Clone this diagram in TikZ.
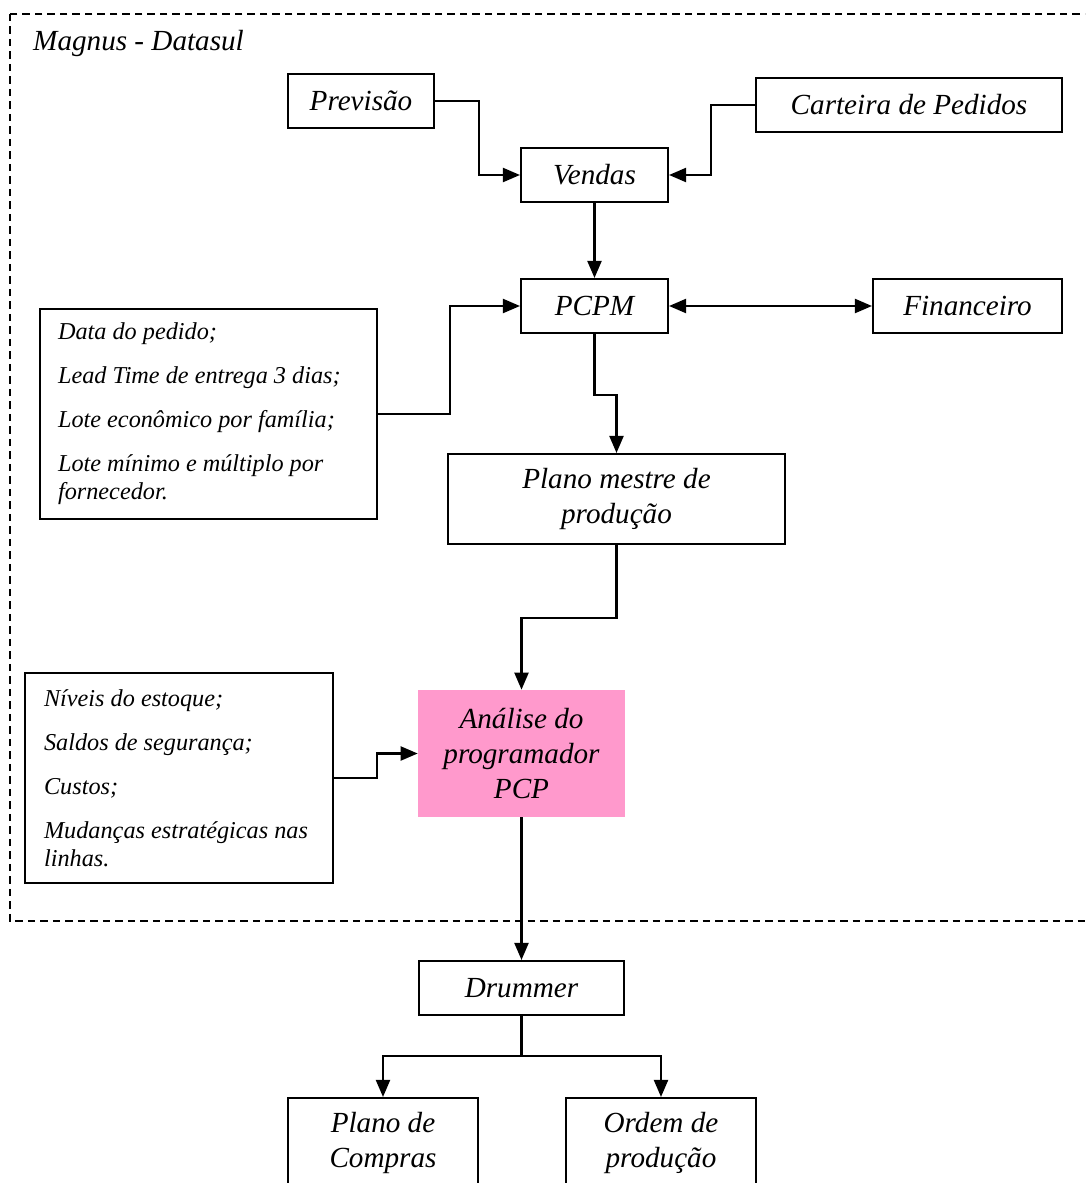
\documentclass[tikz,border=0pt]{standalone}
\usepackage{fontspec}
\newfontfamily\timesfont{Liberation Serif}
\usetikzlibrary{arrows.meta, positioning, calc}
\definecolor{InkBlack}{HTML}{000000}
\definecolor{PinkFill}{HTML}{FF99CC}
\tikzset{
  box/.style={draw=InkBlack, line width=1.2pt, fill=white, align=center, inner sep=2pt, font=\timesfont\fontsize{16.6}{19.8}\selectfont\itshape},
  pinkbox/.style={draw=none, fill=PinkFill, align=center, inner sep=2pt, font=\timesfont\fontsize{16.6}{19.8}\selectfont\itshape},
  infobox/.style={draw=InkBlack, line width=1.2pt, fill=white, align=flush left, anchor=north west, inner xsep=0.36cm, font=\timesfont\fontsize{13.8}{16}\selectfont\itshape},
  frame/.style={draw=InkBlack, line width=1.2pt, dash pattern=on 0.15cm off 0.1cm},
  arrow/.style={-{Triangle[length=0.34cm, width=0.28cm]}, line width=1.2pt, draw=InkBlack},
  dualarrow/.style={{Triangle[length=0.34cm, width=0.28cm]}-{Triangle[length=0.34cm, width=0.28cm]}, line width=1.2pt, draw=InkBlack}
}

\begin{document}
\begin{tikzpicture}[x=0.02cm, y=-0.02cm]
\clip (0,0) rectangle (1085,1183);
\draw[frame] (10,14) rectangle (1100,921);
\node[anchor=west, font=\timesfont\fontsize{16.6}{19.8}\selectfont\itshape] (magnus) at (27,43) {Magnus - Datasul};

% entradas de vendas
\node[box, minimum width=2.92cm, minimum height=1.08cm] (previsao) at (361,101) {Previsão};
\node[box, minimum width=6.12cm, minimum height=1.08cm] (carteira) at (909,105) {Carteira de Pedidos};
\node[box, minimum width=2.94cm, minimum height=1.08cm] (vendas) at (594.5,175) {Vendas};
\draw[arrow] (previsao.east) -- ++(44,0) |- (vendas.west);
\draw[arrow] (carteira.west) -- ++(-44,0) |- (vendas.east);

% PCPM
\node[box, minimum width=2.94cm, minimum height=1.08cm] (pcpm) at (594.5,306) {PCPM};
\node[box, minimum width=3.78cm, minimum height=1.08cm] (financeiro) at (967.5,306) {Financeiro};
\draw[arrow] (vendas) -- (pcpm);
\draw[dualarrow] (pcpm) -- (financeiro);

\node[infobox, text width=6.02cm, minimum height=4.2cm] (regras) at (39,308)
  {Data do pedido;\\[9pt]Lead Time de entrega 3 dias;\\[9pt]Lote econômico por família;\\[9pt]Lote mínimo e múltiplo por\\fornecedor.};
\draw[arrow] (regras.east) -- ++(72,0) |- (pcpm.west);

% plano mestre e analise
\node[box, minimum width=6.74cm, minimum height=1.8cm] (mestre) at (616.5,499) {Plano mestre de\\produção};
\draw[arrow] (pcpm.south) -- ++(0,61) -| (mestre.north);

\node[pinkbox, minimum width=4.14cm, minimum height=2.54cm] (analise) at (521.5,753.5) {Análise do\\programador\\PCP};
\draw[arrow] (mestre.south) -- ++(0,73) -| (analise.north);

\node[infobox, text width=5.4cm, minimum height=4.2cm, inner xsep=0.38cm] (criterios) at (24,672)
  {Níveis do estoque;\\[9pt]Saldos de segurança;\\[9pt]Custos;\\[9pt]Mudanças estratégicas nas\\linhas.};
\draw[arrow] (criterios.east) -- ++(43,0) |- (analise.west);

% saidas
\node[box, minimum width=4.1cm, minimum height=1.08cm] (drummer) at (521.5,988) {Drummer};
\draw[arrow] (analise) -- (drummer);

\node[box, minimum width=3.8cm, minimum height=1.8cm] (compras) at (383,1143) {Plano de\\Compras};
\node[box, minimum width=3.8cm, minimum height=1.8cm] (ordem) at (661,1143) {Ordem de\\produção};
\draw[line width=1.2pt] (drummer.south) -- ++(0,40) coordinate (split);
\draw[arrow] (split) -| (compras.north);
\draw[arrow] (split) -| (ordem.north);
\end{tikzpicture}
\end{document}
